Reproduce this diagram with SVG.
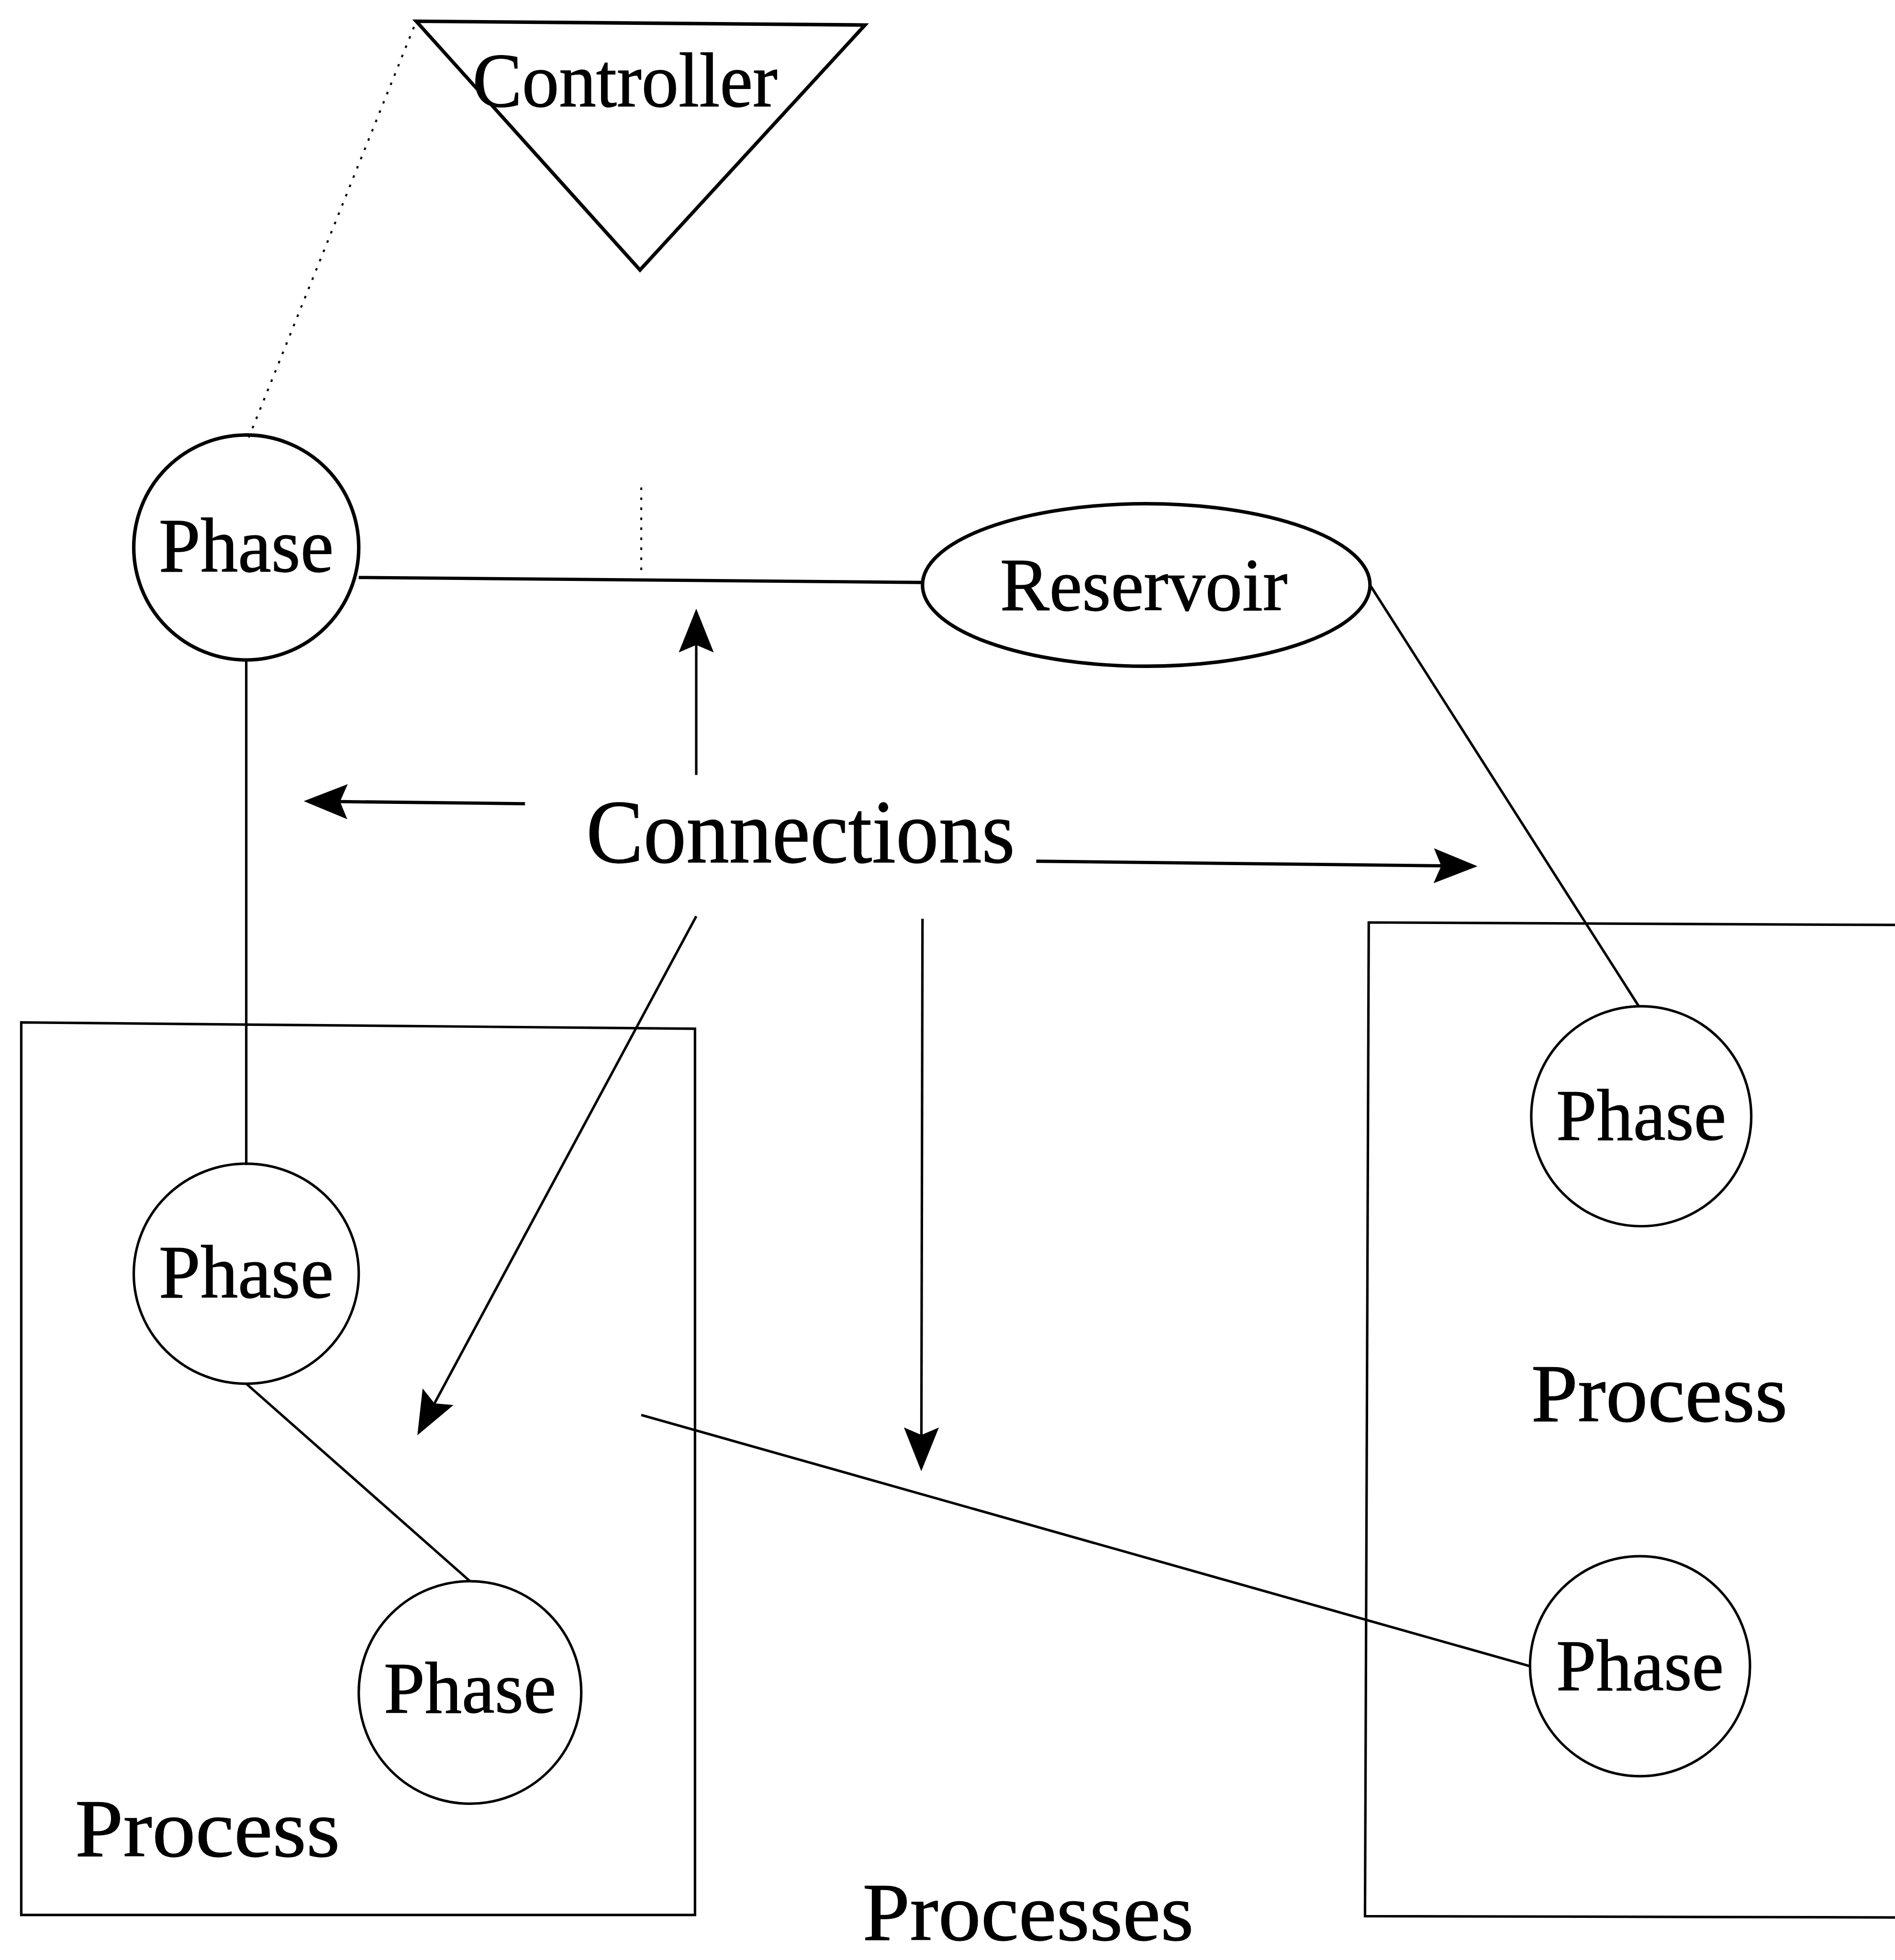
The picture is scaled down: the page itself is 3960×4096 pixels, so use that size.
<svg xmlns="http://www.w3.org/2000/svg" width="3960" height="4096" viewBox="0 0 3960 4096">
  <style>
    .shape { fill: none; stroke: #000; stroke-width: 2.8; }
    .thin { stroke-width: 2; }
    .link { fill: none; stroke: #000; stroke-width: 2; }
    .heavy { stroke-width: 2.6; }
    .dots { fill: none; stroke: #000; stroke-width: 1.6; stroke-dasharray: 2 6; }
    .label { font-family: "Liberation Serif", "Times New Roman", serif; fill: #000; stroke: #000; stroke-width: 0.5; text-anchor: start; }
  </style>
  <defs>
    <marker id="head" viewBox="-1 -15 38 30" markerWidth="38" markerHeight="30" refX="6" refY="0" orient="auto" markerUnits="userSpaceOnUse">
      <path d="M35,0 L0,-14 L6,0 L0,14 Z" fill="#000"/>
    </marker>
  </defs>
  <rect width="3960" height="4096" fill="#fff"/>

  <!-- drawing laid out on a 1516 x 1568 grid -->
  <g transform="scale(2.61214)">

    <g id="connectors">
      <!-- controller link -->
      <path class="dots" d="M199,350 L333,17"/>
      <path class="dots" d="M513,390 L513,462"/>
      <!-- phase to reservoir -->
      <path class="link heavy" d="M287,462 L738,466"/>
      <!-- reservoir to right process -->
      <path class="link" d="M1096,468 L1311,805"/>
      <!-- phase chain in the left process -->
      <path class="link" d="M197,528 L197,932"/>
      <path class="link" d="M197,1107 L376,1265"/>
      <!-- cross-process link -->
      <path class="link" d="M513,1132 L1224,1333"/>
      <!-- arrows from the Connections label -->
      <path class="link" d="M557,620 L557,516" marker-end="url(#head)"/>
      <path class="link heavy" d="M420,643 L272,641.3" marker-end="url(#head)"/>
      <path class="link heavy" d="M829,689 L1153,692.7" marker-end="url(#head)"/>
      <path class="link" d="M557,733 L347.6,1122.7" marker-end="url(#head)"/>
      <path class="link" d="M738,735 L737.1,1148" marker-end="url(#head)"/>
    </g>

    <g id="controller">
      <path class="shape" d="M333,17 L692,20 L512,216 Z" stroke-linejoin="miter"/>
      <text class="label" x="378" y="85" font-size="62" textLength="244" lengthAdjust="spacingAndGlyphs">Controller</text>
    </g>

    <g id="phase-top">
      <ellipse class="shape" cx="197" cy="438" rx="90" ry="90"/>
      <text class="label" x="127" y="457" font-size="62" textLength="140" lengthAdjust="spacingAndGlyphs">Phase</text>
    </g>

    <g id="reservoir">
      <ellipse class="shape" cx="917" cy="468" rx="179" ry="65"/>
      <text class="label" x="800" y="488" font-size="60" textLength="230" lengthAdjust="spacingAndGlyphs">Reservoir</text>
    </g>

    <g id="connections-label">
      <text class="label" x="469" y="690" font-size="72" textLength="343" lengthAdjust="spacingAndGlyphs">Connections</text>
    </g>

    <g id="process-left">
      <path class="shape thin" d="M17,818 L556,823 L556,1532 L17,1532 Z"/>
      <text class="label" x="60" y="1485" font-size="66" textLength="212" lengthAdjust="spacingAndGlyphs">Process</text>
    </g>

    <g id="phase-left-1">
      <ellipse class="shape thin" cx="197" cy="1019" rx="90" ry="88"/>
      <text class="label" x="127" y="1038" font-size="60" textLength="140" lengthAdjust="spacingAndGlyphs">Phase</text>
    </g>

    <g id="phase-left-2">
      <ellipse class="shape thin" cx="376" cy="1354" rx="89" ry="89"/>
      <text class="label" x="307" y="1370" font-size="58" textLength="138" lengthAdjust="spacingAndGlyphs">Phase</text>
    </g>

    <g id="process-right">
      <path class="shape thin" d="M1516,740 L1095,738 L1092,1533 L1516,1534"/>
      <text class="label" x="1225" y="1137" font-size="66" textLength="205" lengthAdjust="spacingAndGlyphs">Process</text>
    </g>

    <g id="phase-right-1">
      <ellipse class="shape thin" cx="1313" cy="893" rx="88" ry="88"/>
      <text class="label" x="1245" y="912" font-size="58" textLength="136" lengthAdjust="spacingAndGlyphs">Phase</text>
    </g>

    <g id="phase-right-2">
      <ellipse class="shape thin" cx="1312" cy="1333" rx="88" ry="88"/>
      <text class="label" x="1245" y="1352" font-size="58" textLength="134" lengthAdjust="spacingAndGlyphs">Phase</text>
    </g>

    <g id="processes-label">
      <text class="label" x="690" y="1552" font-size="66" textLength="265" lengthAdjust="spacingAndGlyphs">Processes</text>
    </g>
  </g>
</svg>
